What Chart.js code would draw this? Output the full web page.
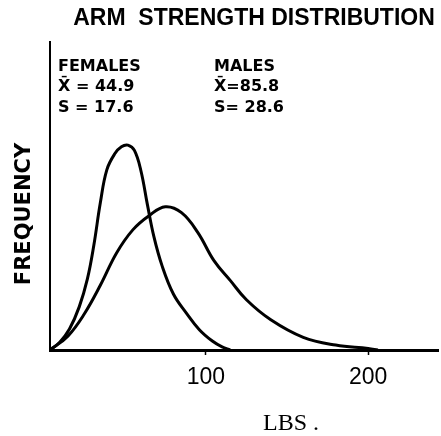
<!DOCTYPE html>
<html>
<head>
<meta charset="utf-8">
<script src="https://cdn.jsdelivr.net/npm/chart.js@4.4.1/dist/chart.umd.min.js"></script>
<style>
  html, body { margin: 0; padding: 0; background: #fff; }
  #wrap { width: 441px; height: 436px; }
</style>
</head>
<body>
<div id="wrap"><canvas id="c" width="441" height="436"></canvas></div>
<script>
// ---- data ----
const titleText = "ARM  STRENGTH DISTRIBUTION";
const xTitle = "LBS .";
const yTitle = "FREQUENCY";
const xTickValues = [100, 200];
const xMin = 4, xMax = 243;
const yMin = 0, yMax = 100;

const femaleLabel = ["FEMALES", "X\u0304 = 44.9", "S = 17.6"];
const maleLabel = ["MALES", "X\u0304=85.8", "S= 28.6"];

const femaleX = [4, 10, 16, 22, 27, 31, 35, 39, 44, 48, 52, 56, 60, 64, 68, 73, 80, 88, 96, 104, 110, 115];
const femaleY = [0, 2.5, 6.8, 14, 23, 34, 47.8, 58.5, 63.8, 66, 66.5, 64.8, 58.2, 47.2, 36.8, 27.4, 18.2, 12, 6.6, 2.9, 1, 0];

const maleX = [4, 15, 25, 35, 45, 55, 65, 75, 85, 95, 105, 115, 125, 140, 160, 180, 200, 206];
const maleY = [0, 4.5, 11.6, 21, 31.5, 39, 43.6, 46.5, 44.6, 38.2, 29, 22.6, 16.3, 9.8, 4.1, 1.6, 0.5, 0];

function toPoints(xs, ys) { return xs.map((x, i) => ({ x: x, y: ys[i] })); }

const textPlugin = {
  id: 'texts',
  afterDraw(chart) {
    const ctx = chart.ctx;
    ctx.save();
    ctx.fillStyle = '#000';
    // title
    ctx.font = 'bold 23px "Liberation Sans"';
    ctx.textAlign = 'center';
    ctx.textBaseline = 'alphabetic';
    ctx.fillText(titleText, 254, 25);
    // annotations
    ctx.font = 'bold 16px "DejaVu Sans"';
    ctx.textAlign = 'left';
    const bases = [71, 91, 112];
    femaleLabel.forEach((t, i) => ctx.fillText(t, 58, bases[i]));
    maleLabel.forEach((t, i) => ctx.fillText(t, 214, bases[i]));
    // x title
    ctx.font = '24px "Liberation Serif"';
    ctx.textAlign = 'left';
    ctx.fillText(xTitle, 263, 430);
    // y title
    ctx.translate(25, 214);
    ctx.rotate(-Math.PI / 2);
    ctx.font = 'bold 21px "DejaVu Sans"';
    ctx.textAlign = 'center';
    ctx.textBaseline = 'middle';
    ctx.fillText(yTitle, 0, 0);
    ctx.restore();
  }
};

new Chart(document.getElementById('c'), {
  type: 'line',
  data: {
    datasets: [
      {
        label: 'Females',
        data: toPoints(femaleX, femaleY),
        borderColor: '#000',
        borderWidth: 3,
        pointRadius: 0,
        fill: false,
        tension: 0.4
      },
      {
        label: 'Males',
        data: toPoints(maleX, maleY),
        borderColor: '#000',
        borderWidth: 3,
        pointRadius: 0,
        fill: false,
        tension: 0.4
      }
    ]
  },
  options: {
    responsive: false,
    animation: false,
    layout: { padding: { top: 42, right: 3, left: 0, bottom: 0 } },
    plugins: {
      legend: { display: false },
      tooltip: { enabled: false },
      title: { display: false }
    },
    scales: {
      x: {
        type: 'linear',
        min: xMin,
        max: xMax,
        afterBuildTicks(scale) { scale.ticks = xTickValues.map(v => ({ value: v })); },
        afterFit(scale) { scale.height = 86; },
        ticks: {
          color: '#000',
          font: { family: '"Liberation Sans"', size: 23 },
          padding: 9,
          maxRotation: 0,
          autoSkip: false,
          callback: (v) => String(v)
        },
        grid: {
          display: true,
          drawOnChartArea: false,
          drawTicks: true,
          tickLength: 5,
          tickColor: '#000',
          tickWidth: 1.5
        },
        border: { display: true, color: '#000', width: 3 }
      },
      y: {
        type: 'linear',
        min: yMin,
        max: yMax,
        afterFit(scale) { scale.width = 50; },
        ticks: { display: false },
        grid: { display: false },
        border: { display: true, color: '#000', width: 2 }
      }
    }
  },
  plugins: [textPlugin]
});
</script>
</body>
</html>
